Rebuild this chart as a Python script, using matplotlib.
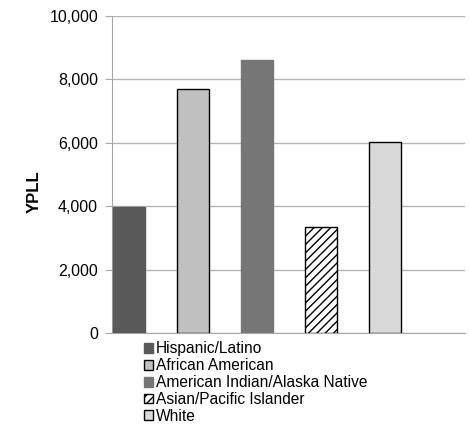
import matplotlib.pyplot as plt
from matplotlib.ticker import FuncFormatter

plt.rcParams['font.family'] = ['Liberation Sans', 'DejaVu Sans']
plt.rcParams['hatch.linewidth'] = 1.0

groups = ['Hispanic/Latino', 'African American', 'American Indian/Alaska Native',
          'Asian/Pacific Islander', 'White']
ypll = [3980, 7700, 8610, 3340, 6030]
colors = ['#595959', '#c0c0c0', '#767676', 'white', '#d9d9d9']
edges = ['#595959', 'black', '#767676', 'black', 'black']
hatches = [None, None, None, '////', None]

fig = plt.figure(figsize=(4.69, 4.25), dpi=100)
ax = fig.add_axes([0.2388, 0.2165, 0.7527, 0.7459])

for i, (g, v) in enumerate(zip(groups, ypll)):
    ax.bar(i, v, width=0.5, color=colors[i], edgecolor=edges[i],
           hatch=hatches[i], linewidth=1, label=g, zorder=3)

ax.set_xlim(-0.266, 5.25)
ax.set_ylim(0, 10000)
ax.set_yticks(range(0, 10001, 2000))
ax.yaxis.set_major_formatter(FuncFormatter(lambda v, p: f'{int(v):,}'))
ax.set_xticks([])
ax.grid(axis='y', color='#b3b3b3', linewidth=1, zorder=0)
for s in ['top', 'right']:
    ax.spines[s].set_visible(False)
ax.spines['left'].set_color('#a6a6a6')
ax.spines['bottom'].set_color('#a6a6a6')
ax.tick_params(axis='y', length=5, color='#a6a6a6', labelsize=11.5, pad=5)
ax.set_ylabel('YPLL', fontsize=12, fontweight='bold')
ax.yaxis.set_label_coords(-0.2, 0.445)

fig.legend(loc='upper left', bbox_to_anchor=(0.29, 0.215), frameon=False,
           fontsize=11.2, handlelength=0.6, handleheight=0.6, handletextpad=0.2,
           labelspacing=0.12, borderpad=0)

plt.savefig('out.png', dpi=100)
